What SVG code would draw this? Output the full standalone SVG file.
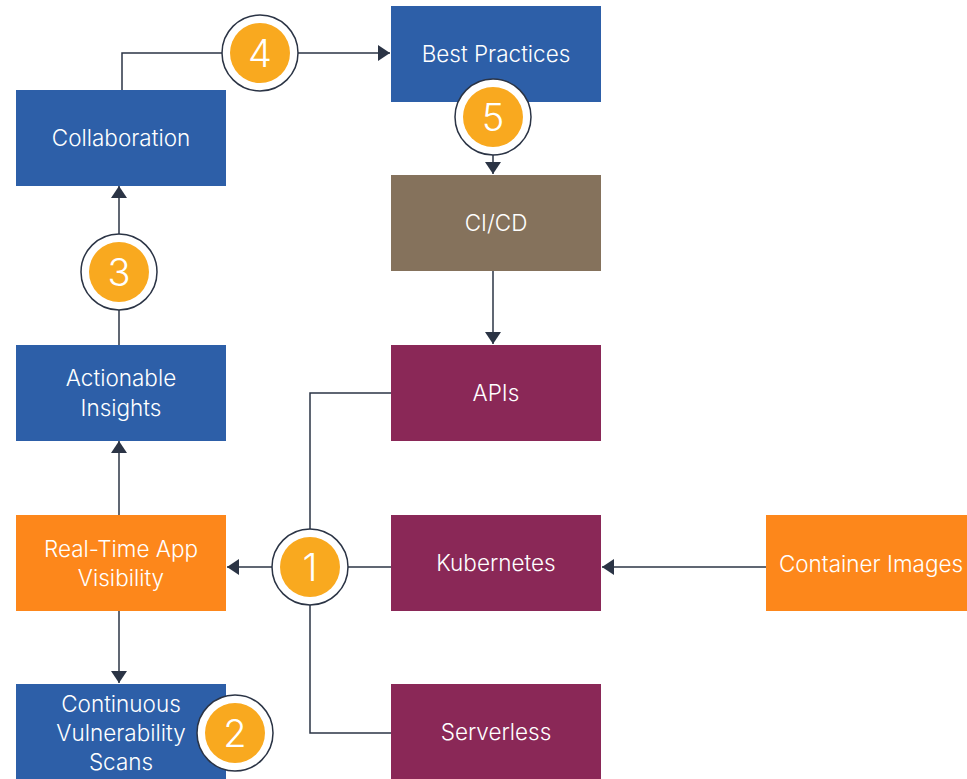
<svg xmlns="http://www.w3.org/2000/svg" width="967" height="779" viewBox="0 0 967 779">
  <style>
    .box text { font-family: Inter, "Open Sans", "Liberation Sans", sans-serif; font-size: 22.5px; font-weight: 300; fill: #ffffff; text-anchor: middle; }
    .blue { fill: #2d5fa8; }
    .brown { fill: #85725c; }
    .plum { fill: #8a2857; }
    .orange { fill: #fd871b; }
    .wire { fill: none; stroke: #2b3445; stroke-width: 1.5; }
    .step .ring { fill: #ffffff; stroke: #2b3445; stroke-width: 1.5; }
    .step .dot { fill: #f9a91f; }
    .step text { font-family: Inter, "Open Sans", "Liberation Sans", sans-serif; font-size: 38px; font-weight: 300; fill: #ffffff; text-anchor: middle; }
  </style>
  <defs>
    <marker id="arrow" viewBox="0 0 12 16" refX="12" refY="8" markerWidth="12" markerHeight="16" markerUnits="userSpaceOnUse" orient="auto">
      <path d="M0,0 L12,8 L0,16 Z" fill="#2b3445"/>
    </marker>
  </defs>

  <rect width="967" height="779" fill="#ffffff"/>

  <!-- connectors -->
  <g id="connectors">
    <path class="wire" d="M122,90 V53 H390" marker-end="url(#arrow)"/>
    <path class="wire" d="M493,150 V174" marker-end="url(#arrow)"/>
    <path class="wire" d="M493,270 V344" marker-end="url(#arrow)"/>
    <path class="wire" d="M391,393 H310 V733 H391"/>
    <path class="wire" d="M391,567 H227" marker-end="url(#arrow)"/>
    <path class="wire" d="M766,567 H602" marker-end="url(#arrow)"/>
    <path class="wire" d="M119,610 V683" marker-end="url(#arrow)"/>
    <path class="wire" d="M119,515 V441" marker-end="url(#arrow)"/>
    <path class="wire" d="M119,345 V186" marker-end="url(#arrow)"/>
  </g>

  <!-- nodes -->
  <g id="best-practices" class="box">
    <rect class="blue" x="391" y="6" width="210" height="96"/>
    <text x="496" y="62">Best Practices</text>
  </g>
  <g id="ci-cd" class="box">
    <rect class="brown" x="391" y="175" width="210" height="96"/>
    <text x="496" y="231">CI/CD</text>
  </g>
  <g id="apis" class="box">
    <rect class="plum" x="391" y="345" width="210" height="96"/>
    <text x="496" y="401">APIs</text>
  </g>
  <g id="kubernetes" class="box">
    <rect class="plum" x="391" y="515" width="210" height="96"/>
    <text x="496" y="571">Kubernetes</text>
  </g>
  <g id="serverless" class="box">
    <rect class="plum" x="391" y="684" width="210" height="96"/>
    <text x="496" y="740">Serverless</text>
  </g>
  <g id="container-images" class="box">
    <rect class="orange" x="766" y="515" width="201" height="96"/>
    <text x="871" y="572">Container Images</text>
  </g>
  <g id="collaboration" class="box">
    <rect class="blue" x="16" y="90" width="210" height="96"/>
    <text x="121" y="146">Collaboration</text>
  </g>
  <g id="actionable-insights" class="box">
    <rect class="blue" x="16" y="345" width="210" height="96"/>
    <text x="121" y="386">Actionable</text>
    <text x="121" y="416">Insights</text>
  </g>
  <g id="real-time-visibility" class="box">
    <rect class="orange" x="16" y="515" width="210" height="96"/>
    <text x="121" y="557">Real-Time App</text>
    <text x="121" y="586">Visibility</text>
  </g>
  <g id="vulnerability-scans" class="box">
    <rect class="blue" x="16" y="684" width="210" height="96"/>
    <text x="121" y="712">Continuous</text>
    <text x="121" y="741">Vulnerability</text>
    <text x="121" y="770">Scans</text>
  </g>

  <!-- numbered steps -->
  <g id="step-1" class="step">
    <circle class="ring" cx="310" cy="567" r="38"/>
    <circle class="dot" cx="310" cy="567" r="30"/>
    <text x="310" y="581">1</text>
  </g>
  <g id="step-2" class="step">
    <circle class="ring" cx="235" cy="733" r="38"/>
    <circle class="dot" cx="235" cy="733" r="30"/>
    <text x="235" y="747">2</text>
  </g>
  <g id="step-3" class="step">
    <circle class="ring" cx="119" cy="272" r="38"/>
    <circle class="dot" cx="119" cy="272" r="30"/>
    <text x="119" y="286">3</text>
  </g>
  <g id="step-4" class="step">
    <circle class="ring" cx="260" cy="53" r="38"/>
    <circle class="dot" cx="260" cy="53" r="30"/>
    <text x="260" y="67">4</text>
  </g>
  <g id="step-5" class="step">
    <circle class="ring" cx="493" cy="117" r="38"/>
    <circle class="dot" cx="493" cy="117" r="30"/>
    <text x="493" y="131">5</text>
  </g>
</svg>
